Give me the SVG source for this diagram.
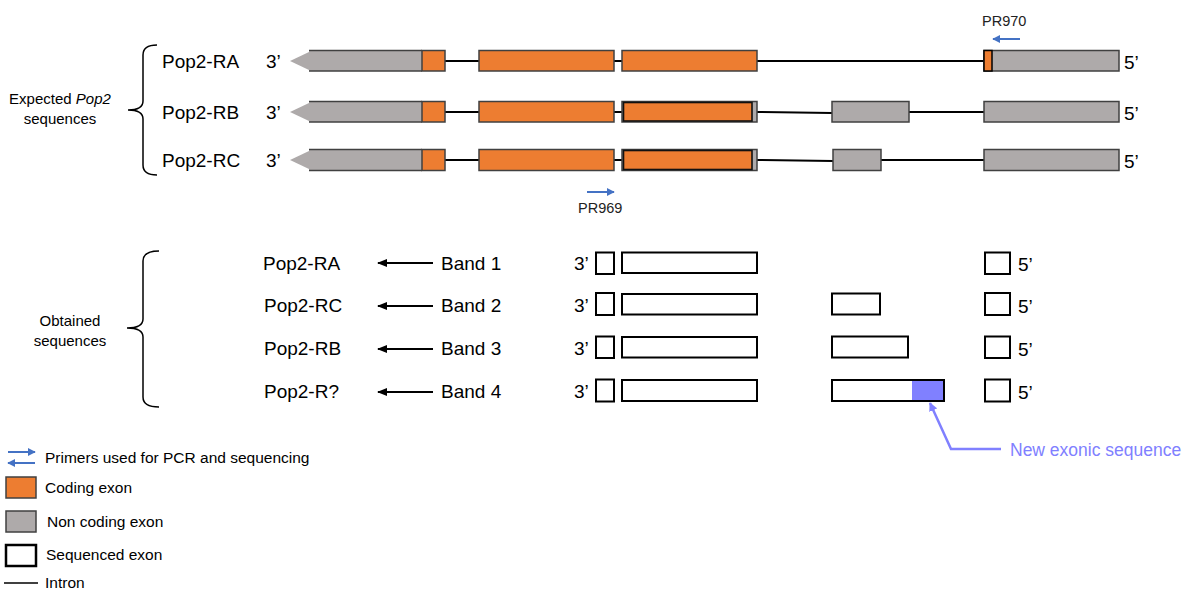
<svg xmlns="http://www.w3.org/2000/svg" width="1195" height="589" viewBox="0 0 1195 589">
<style>
.t{font-family:"Liberation Sans",Arial,sans-serif;fill:#000}
.lbl{font-size:19px}
.sm{font-size:15px}
.lg{font-size:15.5px}
.pr{font-size:14.5px;fill:#222}
.cod{fill:#ED7D31;stroke:#404040;stroke-width:1.5}
.nc{fill:#AEAAAA;stroke:#404040;stroke-width:1.5}
.seq{fill:#fff;stroke:#000;stroke-width:2}
.intron{stroke:#000;stroke-width:2;fill:none}
.brace{stroke:#000;stroke-width:1.5;fill:none}
.prim{stroke:#4472C4;stroke-width:2;fill:none}
.band{stroke:#000;stroke-width:2;fill:none}
.newseq{stroke:#8080FF;stroke-width:2.5;fill:none}
</style>
<defs>
<marker id="ab" viewBox="0 0 10 10" refX="9" refY="5" markerWidth="5" markerHeight="5" orient="auto-start-reverse" markerUnits="strokeWidth"><path d="M0,1 L10,5 L0,9 z" fill="#000"/></marker>
<marker id="ap" viewBox="0 0 10 10" refX="9" refY="5" markerWidth="4" markerHeight="4" orient="auto-start-reverse" markerUnits="strokeWidth"><path d="M0,0 L10,5 L0,10 z" fill="#4472C4"/></marker>
<marker id="av" viewBox="0 0 10 10" refX="9" refY="5" markerWidth="3.5" markerHeight="3.5" orient="auto-start-reverse" markerUnits="strokeWidth"><path d="M0,0 L10,5 L0,10 z" fill="#8080FF"/></marker>
</defs>

<!-- Expected section -->
<g id="expected-label">
<text class="t sm" x="60" y="104" text-anchor="middle">Expected <tspan font-style="italic">Pop2</tspan></text>
<text class="t sm" x="60" y="124" text-anchor="middle">sequences</text>
<path class="brace" d="M157,45 Q143,45 143,55 L143,101 Q143,110 128,110 Q143,110 143,119 L143,165 Q143,175 157,175"/>
</g>

<g id="expected-RA">
<text class="t lbl" x="162" y="68">Pop2-RA</text>
<text class="t lbl" x="266" y="68">3’</text>
<line class="intron" x1="445" y1="61" x2="479" y2="61"/>
<line class="intron" x1="614" y1="61" x2="622" y2="61"/>
<line class="intron" x1="757" y1="61" x2="984" y2="61"/>
<polygon points="290,61 309,52 309,70" fill="#AEAAAA"/>
<rect x="309" y="50.5" width="113" height="20.5" fill="#AEAAAA"/>
<line x1="309" y1="50.5" x2="422" y2="50.5" stroke="#404040" stroke-width="1.5"/>
<line x1="309" y1="71" x2="422" y2="71" stroke="#404040" stroke-width="1.5"/>
<rect class="cod" x="422" y="50.5" width="23" height="20.5"/>
<rect class="cod" x="479" y="50.5" width="135" height="20.5"/>
<rect class="cod" x="622" y="50.5" width="135" height="20.5"/>
<rect class="nc" x="984" y="50.5" width="135" height="20.5"/>
<rect x="984" y="50.5" width="8" height="20.5" fill="#ED7D31" stroke="#000" stroke-width="1.5"/>
<text class="t lbl" x="1124" y="69">5’</text>
</g>

<g id="expected-RB">
<text class="t lbl" x="162" y="119">Pop2-RB</text>
<text class="t lbl" x="266" y="119">3’</text>
<line class="intron" x1="445" y1="112" x2="479" y2="112"/>
<line class="intron" x1="614" y1="112" x2="622" y2="112"/>
<path class="intron" d="M757,112 L832,113"/>
<line class="intron" x1="909" y1="112" x2="984" y2="112"/>
<polygon points="290,112 309,103 309,121" fill="#AEAAAA"/>
<rect x="309" y="101.5" width="113" height="20.5" fill="#AEAAAA"/>
<line x1="309" y1="101.5" x2="422" y2="101.5" stroke="#404040" stroke-width="1.5"/>
<line x1="309" y1="122" x2="422" y2="122" stroke="#404040" stroke-width="1.5"/>
<rect class="cod" x="422" y="101.5" width="23" height="20.5"/>
<rect class="cod" x="479" y="101.5" width="135" height="20.5"/>
<rect class="nc" x="622" y="101.5" width="135" height="20.5"/>
<rect x="623.5" y="102.5" width="128.5" height="18.5" fill="#ED7D31" stroke="#111" stroke-width="1.6"/>
<rect class="nc" x="832" y="101.5" width="77" height="20.5"/>
<rect class="nc" x="984" y="101.5" width="135" height="20.5"/>
<text class="t lbl" x="1124" y="120">5’</text>
</g>

<g id="expected-RC">
<text class="t lbl" x="162" y="167">Pop2-RC</text>
<text class="t lbl" x="266" y="167">3’</text>
<line class="intron" x1="445" y1="160" x2="479" y2="160"/>
<line class="intron" x1="614" y1="160" x2="622" y2="160"/>
<path class="intron" d="M757,160 L833,161"/>
<line class="intron" x1="881" y1="160" x2="984" y2="160"/>
<polygon points="290,160 309,151 309,169" fill="#AEAAAA"/>
<rect x="309" y="149.5" width="113" height="21" fill="#AEAAAA"/>
<line x1="309" y1="149.5" x2="422" y2="149.5" stroke="#404040" stroke-width="1.5"/>
<line x1="309" y1="170.5" x2="422" y2="170.5" stroke="#404040" stroke-width="1.5"/>
<rect class="cod" x="422" y="149.5" width="23" height="21"/>
<rect class="cod" x="479" y="149.5" width="135" height="21"/>
<rect class="nc" x="622" y="149.5" width="135" height="21"/>
<rect x="623.5" y="150.5" width="128.5" height="19" fill="#ED7D31" stroke="#111" stroke-width="1.6"/>
<rect class="nc" x="833" y="149.5" width="48" height="21"/>
<rect class="nc" x="984" y="149.5" width="135" height="21"/>
<text class="t lbl" x="1124" y="168">5’</text>
</g>

<g id="primer-PR970">
<text class="t pr" x="982" y="26">PR970</text>
</g>
<g id="primer-PR969">
<text class="t pr" x="578" y="213">PR969</text>
</g>

<!-- Obtained section -->
<g id="obtained-label">
<text class="t sm" x="70" y="326" text-anchor="middle">Obtained</text>
<text class="t sm" x="70" y="346" text-anchor="middle">sequences</text>
<path class="brace" d="M159,251 Q143,251 143,261 L143,319 Q143,328 127,328 Q143,328 143,337 L143,397 Q143,407 159,407"/>
</g>

<g id="band1">
<text class="t lbl" x="263" y="270">Pop2-RA</text>
<text class="t lbl" x="441" y="270">Band 1</text>
<text class="t lbl" x="574" y="270">3’</text>
<rect class="seq" x="596" y="252.5" width="18" height="21.5"/>
<rect class="seq" x="622" y="252.5" width="135" height="20.5"/>
<rect class="seq" x="985" y="252.5" width="25" height="21.5"/>
<text class="t lbl" x="1018" y="271">5’</text>
</g>

<g id="band2">
<text class="t lbl" x="264" y="312">Pop2-RC</text>
<text class="t lbl" x="441" y="312">Band 2</text>
<text class="t lbl" x="574" y="312">3’</text>
<rect class="seq" x="596" y="293" width="18" height="22"/>
<rect class="seq" x="622" y="294" width="135" height="20.5"/>
<rect class="seq" x="832" y="293.5" width="48" height="21"/>
<rect class="seq" x="985" y="293" width="25" height="22"/>
<text class="t lbl" x="1018" y="313">5’</text>
</g>

<g id="band3">
<text class="t lbl" x="264" y="355">Pop2-RB</text>
<text class="t lbl" x="441" y="355">Band 3</text>
<text class="t lbl" x="574" y="355">3’</text>
<rect class="seq" x="596" y="336.5" width="18" height="21.5"/>
<rect class="seq" x="622" y="337" width="135" height="20.5"/>
<rect class="seq" x="832" y="336.5" width="76" height="21"/>
<rect class="seq" x="985" y="336.5" width="25" height="21.5"/>
<text class="t lbl" x="1018" y="356">5’</text>
</g>

<g id="band4">
<text class="t lbl" x="264" y="398">Pop2-R?</text>
<text class="t lbl" x="441" y="398">Band 4</text>
<text class="t lbl" x="574" y="398">3’</text>
<rect class="seq" x="596" y="379.5" width="18" height="22"/>
<rect class="seq" x="622" y="380" width="135" height="21"/>
<rect x="912" y="380" width="32" height="21" fill="#8080FF"/>
<rect x="832" y="380" width="112" height="21" fill="none" stroke="#000" stroke-width="2"/>
<rect class="seq" x="985" y="379.5" width="25" height="22"/>
<text class="t lbl" x="1018" y="399">5’</text>
</g>

<g id="new-exonic-label">
<text class="t" x="1010" y="456" font-size="17.5" style="fill:#8080FF">New exonic sequence</text>
</g>

<g id="connectors">
<line class="prim" x1="1020" y1="39" x2="993" y2="39" marker-end="url(#ap)"/>
<line class="prim" x1="587" y1="192" x2="614" y2="192" marker-end="url(#ap)"/>
<line class="band" x1="433" y1="263" x2="378" y2="263" marker-end="url(#ab)"/>
<line class="band" x1="433" y1="306" x2="378" y2="306" marker-end="url(#ab)"/>
<line class="band" x1="433" y1="349" x2="378" y2="349" marker-end="url(#ab)"/>
<line class="band" x1="433" y1="392" x2="378" y2="392" marker-end="url(#ab)"/>
<polyline class="newseq" points="1001,449 951,449 930,403" marker-end="url(#av)"/>
</g>

<!-- Legend -->
<g id="legend">
<line class="prim" x1="8" y1="452" x2="35" y2="452" marker-end="url(#ap)"/>
<line class="prim" x1="35" y1="463" x2="8" y2="463" marker-end="url(#ap)"/>
<text class="t lg" x="45" y="463">Primers used for PCR and sequencing</text>
<rect class="cod" x="6" y="477" width="30" height="21"/>
<text class="t lg" x="45" y="493">Coding exon</text>
<rect class="nc" x="6" y="511" width="30" height="21"/>
<text class="t lg" x="47" y="527">Non coding exon</text>
<rect x="6" y="545" width="30" height="21" fill="#fff" stroke="#000" stroke-width="2.5"/>
<text class="t lg" x="46" y="560">Sequenced exon</text>
<line x1="4" y1="583" x2="38" y2="583" stroke="#000" stroke-width="1.5"/>
<text class="t lg" x="45" y="588">Intron</text>
</g>
</svg>
